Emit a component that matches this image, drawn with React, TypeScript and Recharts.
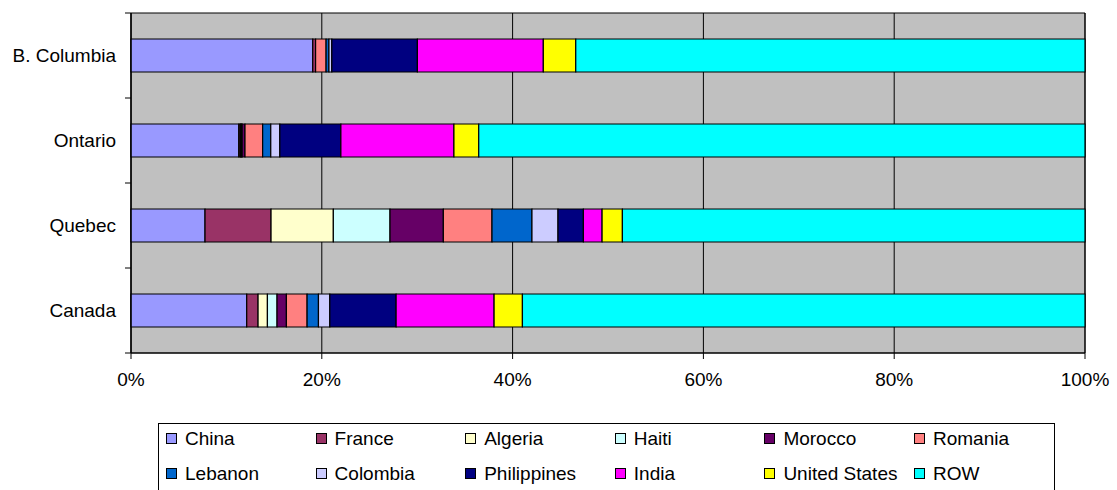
import React from "react";
import {
  BarChart,
  Bar,
  XAxis,
  YAxis,
  CartesianGrid,
  Legend,
  ReferenceArea,
} from "recharts";

const categories = ["B. Columbia", "Ontario", "Quebec", "Canada"];

const china = [19.05, 11.3, 7.76, 12.13];
const france = [0.3, 0.15, 6.92, 1.19];
const algeria = [0, 0.1, 6.53, 0.98];
const haiti = [0, 0.1, 5.94, 1.01];
const morocco = [0, 0.3, 5.59, 0.98];
const romania = [1.1, 1.85, 5.1, 2.17];
const lebanon = [0.3, 0.85, 4.19, 1.19];
const colombia = [0.3, 0.95, 2.73, 1.19];
const philippines = [8.97, 6.4, 2.66, 6.95];
const india = [13.2, 11.85, 1.96, 10.27];
const unitedStates = [3.4, 2.6, 2.13, 2.97];
const row = [53.38, 63.55, 48.49, 58.97];

const xTicks = [0, 0.2, 0.4, 0.6, 0.8, 1];

const seriesNames = [
  "China",
  "France",
  "Algeria",
  "Haiti",
  "Morocco",
  "Romania",
  "Lebanon",
  "Colombia",
  "Philippines",
  "India",
  "United States",
  "ROW",
];
const seriesValues = [
  china,
  france,
  algeria,
  haiti,
  morocco,
  romania,
  lebanon,
  colombia,
  philippines,
  india,
  unitedStates,
  row,
];
const seriesColors = [
  "#9999FF",
  "#993366",
  "#FFFFCC",
  "#CCFFFF",
  "#660066",
  "#FF8080",
  "#0066CC",
  "#CCCCFF",
  "#000080",
  "#FF00FF",
  "#FFFF00",
  "#00FFFF",
];

const data = categories.map((c, i) => {
  const r: Record<string, any> = { name: c };
  seriesNames.forEach((s, k) => {
    r[s] = seriesValues[k][i];
  });
  return r;
});

const FONT = "'Liberation Sans', Arial, sans-serif";
const FONT_SIZE = 19;
const W = 1117;
const H = 490;
const MARGIN = { top: 13, right: 32, left: 0, bottom: 97 };
const Y_AXIS_W = 131;
const X_AXIS_H = 40;
const PLOT_H = H - MARGIN.top - MARGIN.bottom - X_AXIS_H;
const BAND = PLOT_H / categories.length;
const Y_TICK_SIZE = 6;
const Y_TICK_MARGIN = 9;

const YTick = (props: any) => {
  const { x, y, payload, index } = props;
  const axisX = x + Y_TICK_SIZE + Y_TICK_MARGIN;
  const half = BAND / 2;
  return (
    <g>
      <text
        x={x}
        y={y}
        dy="0.355em"
        textAnchor="end"
        fontFamily={FONT}
        fontSize={FONT_SIZE}
        fill="#000"
      >
        {payload.value}
      </text>
      <line x1={axisX - 6} x2={axisX} y1={y + half} y2={y + half} stroke="#000" />
      {index === 0 && (
        <line x1={axisX - 6} x2={axisX} y1={y - half} y2={y - half} stroke="#000" />
      )}
    </g>
  );
};

const LegendBox = () => (
  <div
    style={{
      width: 897,
      height: 90,
      borderLeft: "1px solid #000",
      borderTop: "1px solid #000",
      borderRight: "1px solid #000",
      boxSizing: "border-box",
      position: "relative",
      fontFamily: FONT,
      fontSize: FONT_SIZE,
      color: "#000",
    }}
  >
    {seriesNames.map((n, i) => {
      const col = i % 6;
      const r = Math.floor(i / 6);
      return (
        <div
          key={n}
          style={{
            position: "absolute",
            left: 7 + col * 149.6,
            top: -3 + r * 35,
            height: 35,
            display: "flex",
            alignItems: "center",
            whiteSpace: "nowrap",
          }}
        >
          <span
            style={{
              display: "inline-block",
              width: 11,
              height: 11,
              boxSizing: "border-box",
              border: "1px solid #000",
              background: seriesColors[i],
              marginRight: 8,
            }}
          />
          <span>{n}</span>
        </div>
      );
    })}
  </div>
);

export default function App() {
  return (
    <div
      style={{
        position: "absolute",
        left: 0,
        top: 0,
        width: W,
        height: H,
        overflow: "hidden",
        background: "#fff",
      }}
    >
      <BarChart
        width={W}
        height={H}
        data={data}
        layout="vertical"
        stackOffset="expand"
        margin={MARGIN}
        barSize={33}
      >
        <CartesianGrid horizontal={false} stroke="#000" fill="#C0C0C0" fillOpacity={1} />
        <XAxis
          type="number"
          domain={[0, 1]}
          ticks={xTicks}
          tickFormatter={(v: number) => `${Math.round(v * 100)}%`}
          height={X_AXIS_H}
          tickSize={6}
          tickMargin={14}
          stroke="#000"
          tick={{ fill: "#000", fontFamily: FONT, fontSize: FONT_SIZE }}
          interval={0}
        />
        <YAxis
          type="category"
          dataKey="name"
          width={Y_AXIS_W}
          tickLine={false}
          tickSize={Y_TICK_SIZE}
          tickMargin={Y_TICK_MARGIN}
          stroke="#000"
          tick={<YTick />}
          interval={0}
        />
        {seriesNames.map((n, i) => (
          <Bar
            key={n}
            dataKey={n}
            stackId="a"
            fill={seriesColors[i]}
            stroke="#000"
            strokeWidth={1.2}
            isAnimationActive={false}
          />
        ))}
        <ReferenceArea x1={0} x2={1} fill="none" stroke="#000" strokeWidth={1} />
        <Legend
          content={() => <LegendBox />}
          wrapperStyle={{
            position: "absolute",
            top: 423,
            left: 158,
            bottom: "auto",
            width: 897,
            height: 0,
          }}
        />
      </BarChart>
    </div>
  );
}
